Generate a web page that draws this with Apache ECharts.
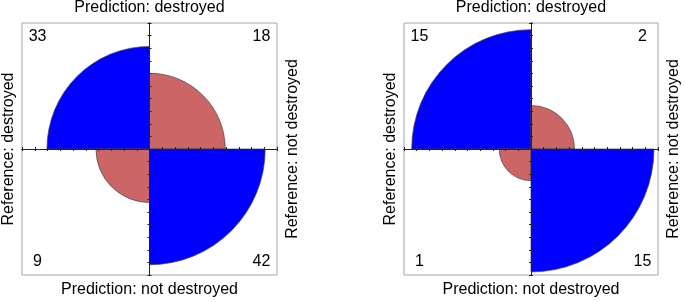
<!DOCTYPE html>
<html>
<head>
<meta charset="utf-8">
<script src="https://cdn.jsdelivr.net/npm/echarts@6/dist/echarts.min.js"></script>
<style>
html, body { margin: 0; padding: 0; background: #fff; }
#main { width: 685px; height: 302px; }
</style>
</head>
<body>
<div id="main"></div>
<script>
// labels of the two confusion-matrix fourfold plots
var predLabels = ['Prediction: destroyed', 'Prediction: not destroyed'];
var refLabels = ['Reference: destroyed', 'Reference: not destroyed'];
// counts, order: top-left, top-right, bottom-left, bottom-right
var countsLeft = [33, 18, 9, 42];
var countsRight = [15, 2, 1, 15];
var quadColors = ['#0000ff', '#cc6666', '#cc6666', '#0000ff'];

var FONT = 'Liberation Sans, Arial, Helvetica, sans-serif';
var chart = echarts.init(document.getElementById('main'));

// panel boxes (pixels)
var panels = [
    {left: 22, top: 23, width: 255, height: 252, counts: countsLeft},
    {left: 404, top: 23, width: 254, height: 252, counts: countsRight}
];

function quarterData(counts) {
    // each row (top / bottom) standardized to sum 1 (margin = 1)
    var rows = [counts[0] + counts[1], counts[0] + counts[1], counts[2] + counts[3], counts[2] + counts[3]];
    return counts.map(function (n, i) { return [i, n, rows[i]]; });
}

var angles = [
    [Math.PI, 1.5 * Math.PI],
    [1.5 * Math.PI, 2 * Math.PI],
    [0.5 * Math.PI, Math.PI],
    [0, 0.5 * Math.PI]
];

function renderQuarter(params, api) {
    var q = api.value(0), n = api.value(1), rowSum = api.value(2);
    var sx = q % 2 === 0 ? -1 : 1;
    var sy = q < 2 ? 1 : -1;
    var c = api.coord([0, 0]);
    var r = api.size([Math.sqrt(n / rowSum), 0])[0];
    var lp = api.coord([sx * 0.878, sy * 0.893]);
    return {
        type: 'group',
        children: [{
            type: 'sector',
            shape: {cx: c[0], cy: c[1], r: r, r0: 0, startAngle: angles[q][0], endAngle: angles[q][1], clockwise: true},
            style: {fill: quadColors[q], stroke: '#444', lineWidth: 0.7}
        }, {
            type: 'text',
            x: lp[0], y: lp[1],
            style: {
                text: String(n), fill: '#000', font: '16px ' + FONT,
                align: 'center', verticalAlign: 'middle',
                textAlign: 'center', textVerticalAlign: 'middle'
            }
        }]
    };
}

var grids = [], xAxes = [], yAxes = [], series = [], graphics = [];

function axisCommon(gi, pos) {
    return {
        type: 'value', gridIndex: gi, position: pos, min: -1, max: 1, interval: 0.1, z: 10,
        axisLine: {show: true, onZero: true, lineStyle: {color: '#222', width: 1}},
        axisTick: {show: true, inside: false, length: 2, lineStyle: {color: '#222', width: 1}},
        axisLabel: {show: false},
        splitLine: {show: false}
    };
}

function label(txt, x, y, rot) {
    return {
        type: 'text', x: x, y: y, rotation: rot || 0, z: 20,
        style: {
            text: txt, fill: '#000', font: '16px ' + FONT,
            align: 'center', verticalAlign: 'middle',
            textAlign: 'center', textVerticalAlign: 'middle'
        }
    };
}

panels.forEach(function (p, gi) {
    grids.push({
        left: p.left, top: p.top, width: p.width, height: p.height,
        show: true, borderColor: '#a6a6a6', borderWidth: 1, backgroundColor: 'transparent'
    });
    xAxes.push(axisCommon(gi, 'bottom'), axisCommon(gi, 'top'));
    yAxes.push(axisCommon(gi, 'left'), axisCommon(gi, 'right'));
    series.push({
        type: 'custom',
        xAxisIndex: gi * 2, yAxisIndex: gi * 2,
        renderItem: renderQuarter,
        encode: {x: -1, y: -1},
        silent: true,
        data: quarterData(p.counts)
    });
    var cx = p.left + p.width / 2;
    var cy = p.top + p.height / 2;
    graphics.push(label(predLabels[0], cx, 8));
    graphics.push(label(predLabels[1], cx, 290));
    graphics.push(label(refLabels[0], cx - 140.5, cy, Math.PI / 2));
    graphics.push(label(refLabels[1], cx + 143, cy, Math.PI / 2));
});

chart.setOption({
    animation: false,
    backgroundColor: '#fff',
    grid: grids,
    xAxis: xAxes,
    yAxis: yAxes,
    series: series,
    graphic: graphics
});
</script>
</body>
</html>
